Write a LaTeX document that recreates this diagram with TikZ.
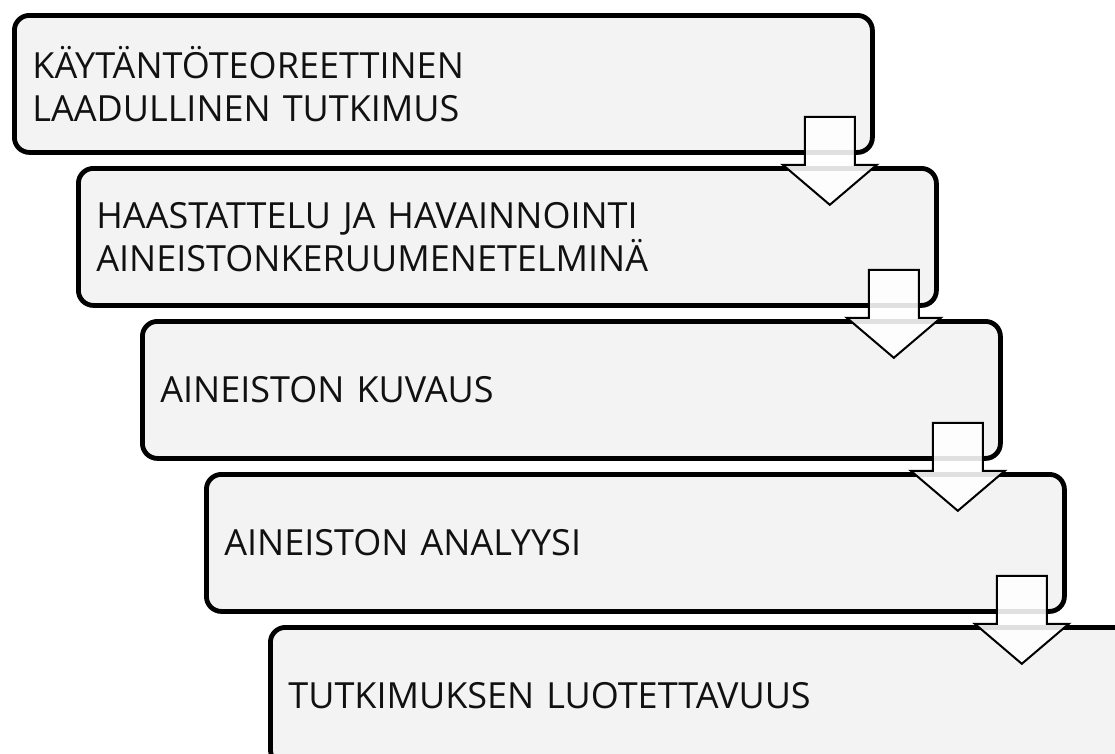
\documentclass[tikz,border=0pt]{standalone}
\usepackage{fontspec}
\setmainfont{Open Sans}
\usetikzlibrary{shadows}
\definecolor{boxfill}{HTML}{F3F3F3}
\definecolor{txt}{HTML}{111111}
\tikzset{
  stepbox/.style={draw=black, line width=4.8pt, rounded corners=15pt, fill=boxfill,
    anchor=north west, minimum height=137pt, text width=822pt, inner xsep=18pt, inner ysep=0pt,
    align=left, font=\fontsize{36}{43}\selectfont, text=txt,
    drop shadow={shadow xshift=0.5pt, shadow yshift=-2.5pt, fill=black, opacity=0.18}},
  flowarrow/.style={draw=black, line width=2pt, fill=white, fill opacity=0.88, line join=miter}
}
\begin{document}
\begin{tikzpicture}[x=1pt,y=1pt]
\useasboundingbox (0,0) rectangle (1115,-753);
\clip (0,0) rectangle (1115,-753);
\fill[white] (0,0) rectangle (1115,-753);
\node[stepbox] (b1) at (12,-13) {KÄYTÄNTÖTEOREETTINEN\\LAADULLINEN TUTKIMUS};
\node[stepbox] (b2) at (76,-166) {HAASTATTELU JA HAVAINNOINTI\\AINEISTONKERUUMENETELMINÄ};
\node[stepbox] (b3) at (140,-319) {AINEISTON KUVAUS};
\node[stepbox] (b4) at (204,-472) {AINEISTON ANALYYSI};
\node[stepbox] (b5) at (268,-625) {TUTKIMUKSEN LUOTETTAVUUS};
\foreach \b in {b1,b2,b3,b4}{
  \begin{scope}[shift={(\b.south east)}]
    \draw[flowarrow] (-70,38) -- (-20,38) -- (-20,-10) -- (2,-10) -- (-45,-50) -- (-92,-10) -- (-70,-10) -- cycle;
  \end{scope}
}
\end{tikzpicture}
\end{document}
